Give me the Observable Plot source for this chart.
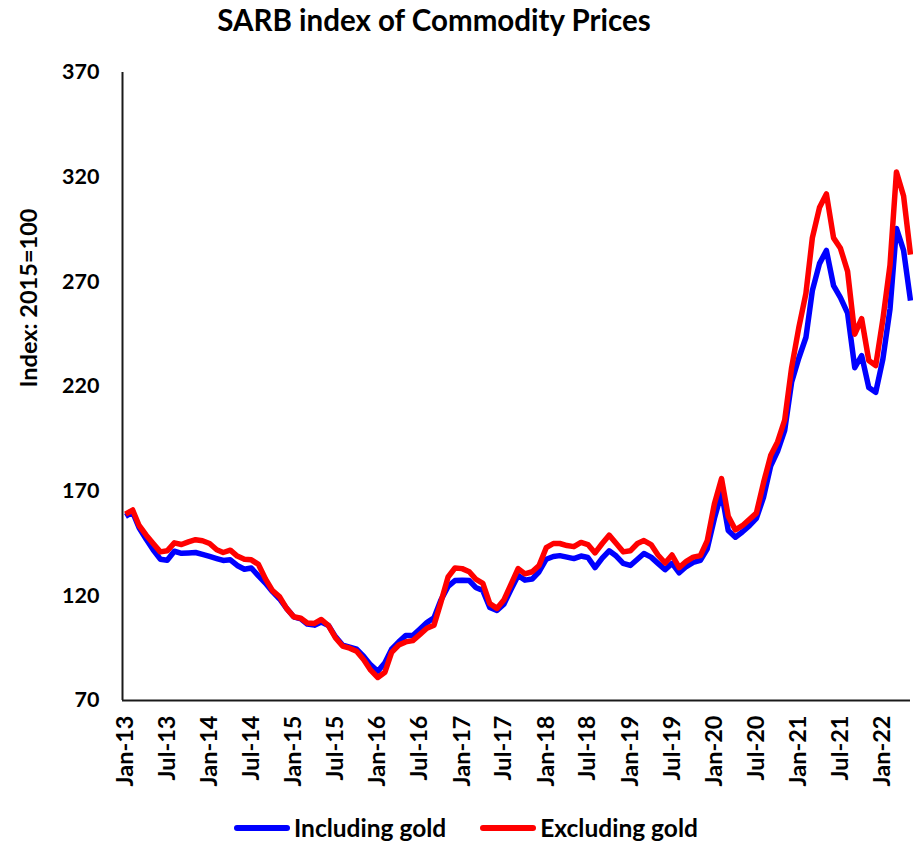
<!DOCTYPE html>
<html>
<head>
<meta charset="utf-8">
<script src="https://cdn.jsdelivr.net/npm/d3@7"></script>
<script src="https://cdn.jsdelivr.net/npm/@observablehq/plot@0.6"></script>
<style>
  body { margin: 0; background: #fff; font-family: Lato, "Open Sans", sans-serif; color: #000; }
  #wrap { position: relative; width: 913px; height: 846px; overflow: hidden; background: #fff; }
  #title { position: absolute; left: 0; top: 5px; width: 868px; text-align: center; font-weight: bold; font-size: 29.5px; line-height: 30px; z-index: 2; }
  #ytitle { position: absolute; left: -122px; top: 286px; width: 300px; text-align: center; font-weight: bold; font-size: 23.5px; line-height: 24px; transform: rotate(-90deg); transform-origin: 150px 12px; z-index: 2; }
  #chart { position: absolute; left: 0; top: 50px; z-index: 1; }
  #legend { position: absolute; left: 234px; top: 815px; display: flex; align-items: center; font-weight: bold; font-size: 24.5px; line-height: 25px; white-space: nowrap; z-index: 2; }
  .sw { display: inline-block; width: 56px; height: 6px; border-radius: 3px; margin-right: 4px; }
  .item { display: flex; align-items: center; margin-right: 34px; }
</style>
</head>
<body>
<div id="wrap">
  <div id="chart"></div>
  <div id="title"></div>
  <div id="ytitle"></div>
  <div id="legend"></div>
</div>
<script>
// ---- Data (monthly, Jan-13 .. May-22) ----
const chartTitle = "SARB index of Commodity Prices";
const yAxisTitle = "Index: 2015=100";
const firstMonth = "Jan-13";
const seriesNames = ["Including gold", "Excluding gold"];
const seriesColors = ["#0000FF", "#FF0000"];
const yTicks = [70, 120, 170, 220, 270, 320, 370];
const xTickLabels = ["Jan-13","Jul-13","Jan-14","Jul-14","Jan-15","Jul-15","Jan-16","Jul-16","Jan-17","Jul-17",
  "Jan-18","Jul-18","Jan-19","Jul-19","Jan-20","Jul-20","Jan-21","Jul-21","Jan-22"];

const includingGold = [
  158, 160, 152.5, 147, 142, 137.5, 137, 141.3, 140.3, 140.5, 140.7, 139.8,   // 2013
  138.8, 137.8, 136.9, 137.2, 134.5, 132.7, 133.3, 129.5, 126, 122, 118.5, 114, // 2014
  110, 109, 106.5, 106, 107.5, 105.8, 100.5, 96.5, 95.5, 94.5, 91, 87,          // 2015
  84, 88, 94.5, 98, 101, 101, 104, 107.2, 109.5, 118, 124.5, 127.3,             // 2016
  127.5, 127.3, 124, 122.5, 114.4, 113, 116, 123, 129.7, 127.5, 128, 131.5,     // 2017
  137.5, 138.8, 139.2, 138.5, 137.8, 139, 138.3, 133.5, 138, 141.5, 139, 135.5, // 2018
  134.5, 137.5, 140.2, 138.5, 135.5, 132.5, 135.5, 131, 134, 136, 136.9, 142.5, // 2019
  157, 169.3, 151.2, 148, 150.5, 153.5, 157, 167, 182, 189, 199, 222,           // 2020
  233.5, 243.4, 265.8, 278.7, 285, 268.2, 262.5, 255, 229, 234.8, 219.5, 217.2, // 2021
  233, 257, 295.5, 285, 261                                                      // 2022
];
const excludingGold = [
  159, 161, 153.6, 149, 145, 141, 141.5, 145.3, 144.5, 145.8, 146.8, 146.3,     // 2013
  145, 142, 140.7, 141.8, 139, 137.5, 137.2, 135, 128, 122.5, 119.5, 114,       // 2014
  110, 109.3, 107, 106.8, 108.7, 105.8, 100, 96, 95, 93.5, 89.5, 84.5,          // 2015
  81, 83.5, 93, 96.5, 98, 98.6, 101.5, 104.5, 106, 117, 129, 133.3,             // 2016
  133, 131.5, 128, 126, 116.3, 114, 118, 125.5, 133, 130.5, 131.5, 134.5,       // 2017
  143, 145, 145, 144, 143.5, 145.5, 144.5, 140.5, 145, 149, 145, 141,           // 2018
  141.5, 145, 146.4, 144.5, 139.5, 135.7, 139.5, 133.5, 136.5, 138.5, 139.2, 146.4, // 2019
  164, 176, 158, 151.5, 153.5, 156.5, 159.5, 174, 187, 193.5, 204, 229,         // 2020
  248, 264.4, 291, 305.5, 312, 291, 286, 275, 245, 252.4, 232.4, 230,           // 2021
  252, 278, 322.5, 311, 283                                                      // 2022
];

// ---- Build ----
const parseM = d3.utcParse("%b-%y");
const fmtM = d3.utcFormat("%b-%y");
const start = parseM(firstMonth);
const months = includingGold.map((_, i) => d3.utcMonth.offset(start, i));
const rows = [];
months.forEach((d, i) => {
  rows.push({date: d, value: includingGold[i], series: seriesNames[0]});
  rows.push({date: d, value: excludingGold[i], series: seriesNames[1]});
});
const xTicks = xTickLabels.map(parseM);

document.getElementById("title").textContent = chartTitle;
document.getElementById("ytitle").textContent = yAxisTitle;

const axisColor = "#1a1a1a";
const chart = Plot.plot({
  width: 913,
  height: 760,
  marginLeft: 122,
  marginRight: 3,
  marginTop: 22,
  marginBottom: 110,
  style: {fontFamily: "Lato, 'Open Sans', sans-serif", fontWeight: "bold", color: "#000", background: "transparent", overflow: "visible"},
  x: {type: "utc", domain: [months[0], months[months.length - 1]], insetLeft: 3},
  y: {domain: [70, 370]},
  color: {domain: seriesNames, range: seriesColors},
  marks: [
    Plot.axisY(yTicks, {tickSize: 0, tickPadding: 23, fontSize: 21.5, label: null, tickFormat: d => String(d)}),
    Plot.axisX(xTicks, {tickSize: 0, tickPadding: 15, tickRotate: -90, fontSize: 23.5, label: null, tickFormat: fmtM}),
    Plot.ruleY([70], {stroke: axisColor, strokeWidth: 2}),
    Plot.ruleX([months[0]], {dx: -3, stroke: axisColor, strokeWidth: 2}),
    Plot.line(rows.filter(r => r.series === seriesNames[0]), {x: "date", y: "value", stroke: "series", strokeWidth: 5.5, strokeLinejoin: "round", strokeLinecap: "butt"}),
    Plot.line(rows.filter(r => r.series === seriesNames[1]), {x: "date", y: "value", stroke: "series", strokeWidth: 5.5, strokeLinejoin: "round", strokeLinecap: "butt"})
  ]
});
document.getElementById("chart").appendChild(chart);

// legend
const leg = document.getElementById("legend");
seriesNames.forEach((name, i) => {
  const item = document.createElement("div");
  item.className = "item";
  const sw = document.createElement("span");
  sw.className = "sw";
  sw.style.background = seriesColors[i];
  const tx = document.createElement("span");
  tx.textContent = name;
  item.appendChild(sw);
  item.appendChild(tx);
  leg.appendChild(item);
});
</script>
</body>
</html>
